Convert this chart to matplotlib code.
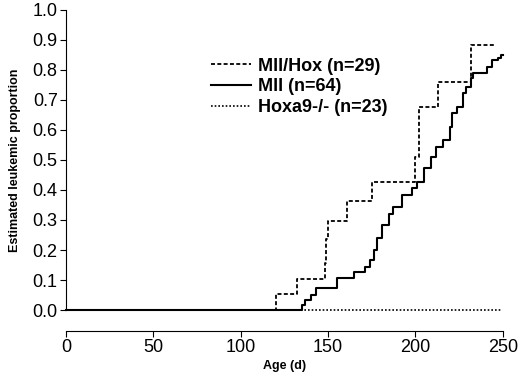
import matplotlib
matplotlib.use('Agg')
import matplotlib.pyplot as plt

plt.rcParams['font.family'] = ['Liberation Sans', 'DejaVu Sans']

# Kaplan-Meier style step curves (day, estimated proportion)
mllhox_days = [0, 120, 132, 148, 149, 150, 161, 175, 200, 202, 213, 232, 245]
mllhox_vals = [0.0, 0.053, 0.105, 0.158, 0.237, 0.297, 0.363, 0.427, 0.51, 0.677, 0.76, 0.883, 0.883]

mll_days = [0, 135, 137, 140, 143, 155, 165, 171, 174, 176, 178, 181, 185, 187,
            192, 198, 201, 205, 209, 212, 216, 220, 221, 224, 227, 229, 232,
            233, 241, 244, 247, 249, 250]
mll_vals = [0.0, 0.016, 0.033, 0.05, 0.073, 0.107, 0.127, 0.143, 0.167, 0.2,
            0.24, 0.283, 0.32, 0.343, 0.383, 0.407, 0.427, 0.473, 0.51, 0.543,
            0.567, 0.61, 0.657, 0.677, 0.723, 0.743, 0.773, 0.79, 0.81, 0.833,
            0.84, 0.85, 0.85]

hoxa9_days = [0, 249]
hoxa9_vals = [0.0, 0.0]

labels = ['Mll/Hox (n=29)', 'Mll (n=64)', 'Hoxa9-/- (n=23)']
xticks = [0, 50, 100, 150, 200, 250]
yticks = [0.0, 0.1, 0.2, 0.3, 0.4, 0.5, 0.6, 0.7, 0.8, 0.9, 1.0]

fig = plt.figure(figsize=(5.2, 3.76), dpi=100)
ax = fig.add_axes([0.127, 0.1755, 0.84, 0.798])

l1, = ax.step(mllhox_days, mllhox_vals, where='post', color='black', lw=1.3,
              linestyle=(0, (2.2, 1.3)), clip_on=False)
l2, = ax.step(mll_days, mll_vals, where='post', color='black', lw=1.5, clip_on=False)
l3, = ax.step(hoxa9_days, hoxa9_vals, where='post', color='black', lw=1.2,
              linestyle=(0, (1, 1.2)), clip_on=False)

ax.set_xlim(0, 250)
ax.set_ylim(0, 1.0)
ax.set_xticks(xticks)
ax.set_yticks(yticks)
ax.set_yticklabels(['%.1f' % v for v in yticks])
ax.tick_params(labelsize=13, direction='out', length=4, width=0.8, pad=2)

ax.spines['top'].set_visible(False)
ax.spines['right'].set_visible(False)
ax.spines['bottom'].set_position(('outward', 15))
ax.spines['left'].set_linewidth(0.8)
ax.spines['bottom'].set_linewidth(0.8)

ax.set_xlabel('Age (d)', fontsize=9, fontweight='bold', labelpad=3)
ax.set_ylabel('Estimated leukemic proportion', fontsize=9, fontweight='bold', labelpad=8)

leg = ax.legend([l1, l2, l3], labels, loc='upper left', bbox_to_anchor=(0.315, 0.865),
                frameon=False, prop={'size': 13, 'weight': 'bold'},
                handlelength=2.2, handletextpad=0.4, labelspacing=0.2,
                borderaxespad=0)

fig.savefig('out.png', dpi=100)
